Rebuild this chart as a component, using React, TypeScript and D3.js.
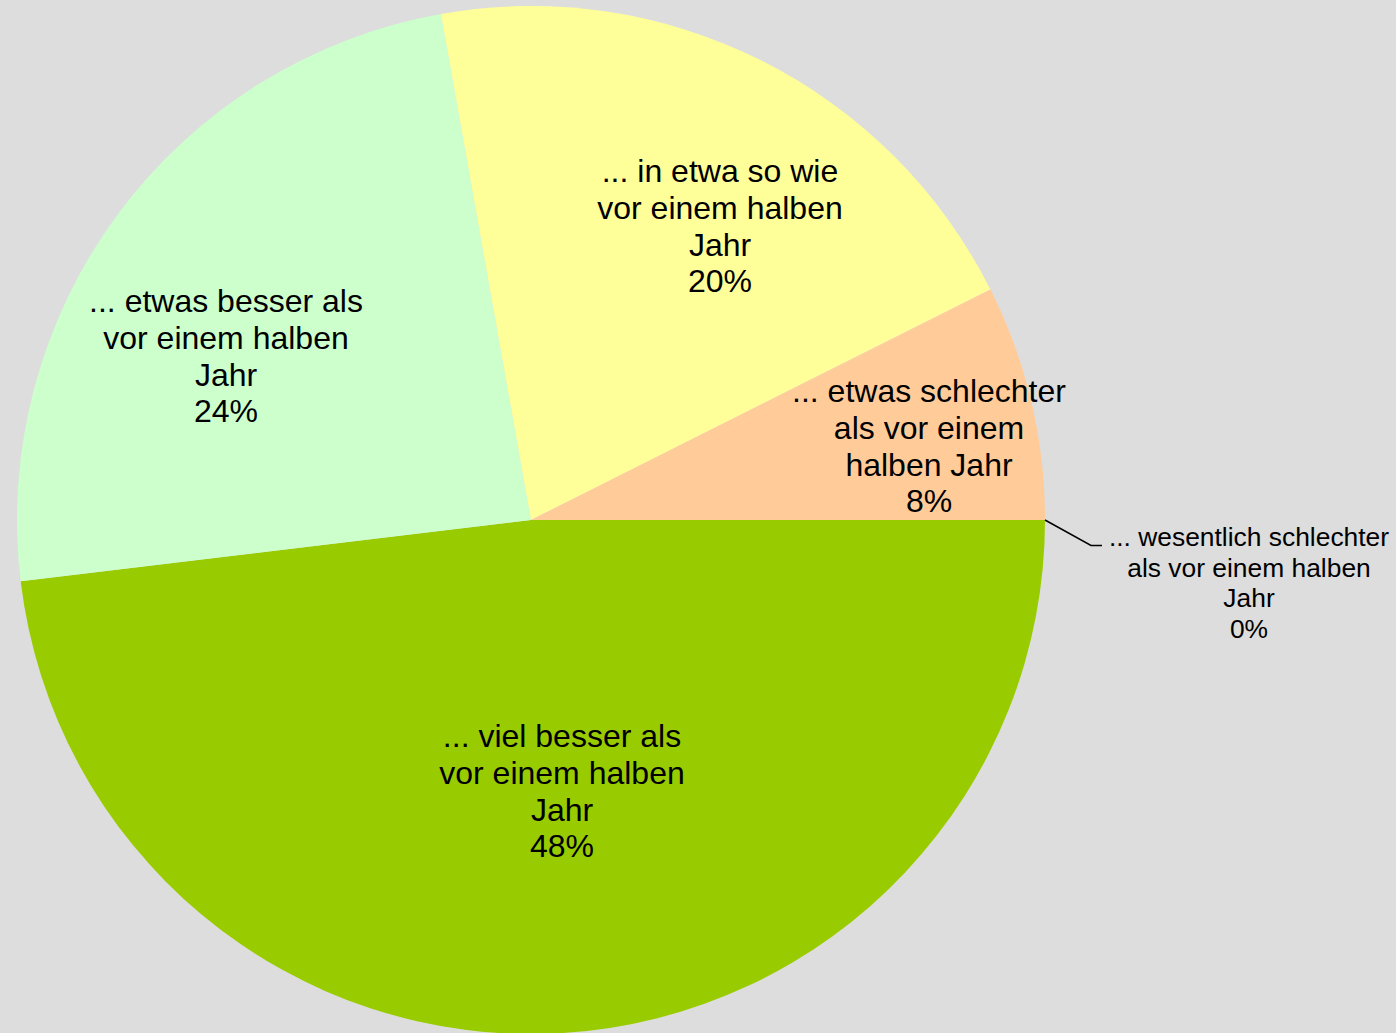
import React from "react";
import * as d3 from "d3";

// ---- data ----
const categories = [
  "... viel besser als vor einem halben Jahr",
  "... etwas besser als vor einem halben Jahr",
  "... in etwa so wie vor einem halben Jahr",
  "... etwas schlechter als vor einem halben Jahr",
  "... wesentlich schlechter als vor einem halben Jahr",
];
const values = [48.1, 24.1, 20.4, 7.4, 0];
const percentLabels = ["48%", "24%", "20%", "8%", "0%"];
const labelLines = [
  ["... viel besser als", "vor einem halben", "Jahr"],
  ["... etwas besser als", "vor einem halben", "Jahr"],
  ["... in etwa so wie", "vor einem halben", "Jahr"],
  ["... etwas schlechter", "als vor einem", "halben Jahr"],
  ["... wesentlich schlechter", "als vor einem halben", "Jahr"],
];

// ---- layout / style ----
const W = 1396;
const H = 1033;
const CX = 531;
const CY = 520;
const R = 514;
const COLORS = ["#99CC00", "#CCFFCC", "#FFFF99", "#FFCC99", "#FF9999"];
const BG = "#DDDDDD";
// label block centers relative to pie center
const LABEL_OFFSETS: [number, number][] = [
  [31, 271],
  [-305, -164],
  [189, -294],
  [398, -74],
  [718, 63],
];
const INSIDE_FS = 32;
const INSIDE_LH = 36.7;
const OUT_FS = 26.4;
const OUT_LH = 30.5;

export default function App() {
  const pie = d3
    .pie<number>()
    .sort(null)
    .value((d) => d)
    .startAngle(Math.PI / 2)
    .endAngle(Math.PI / 2 + 2 * Math.PI);
  const arcs = pie(values);
  const arc = d3.arc<d3.PieArcDatum<number>>().innerRadius(0).outerRadius(R);

  return (
    <svg
      width={W}
      height={H}
      style={{ position: "absolute", left: 0, top: 0, background: BG }}
      fontFamily="'Liberation Sans', Arial, sans-serif"
    >
      <rect x={0} y={0} width={W} height={H} fill={BG} />
      <g transform={`translate(${CX},${CY})`}>
        {arcs.map((a, i) =>
          a.endAngle - a.startAngle > 0 ? (
            <path key={categories[i]} d={arc(a) || ""} fill={COLORS[i]} />
          ) : null
        )}
        {arcs.map((a, i) => {
          const outside = values[i] === 0;
          const fs = outside ? OUT_FS : INSIDE_FS;
          const lh = outside ? OUT_LH : INSIDE_LH;
          const lines = [...labelLines[i], percentLabels[i]];
          const [dx, dy] = LABEL_OFFSETS[i];
          const n = lines.length;
          let leader = null;
          if (outside) {
            const ang = (a.startAngle + a.endAngle) / 2;
            const sx = R * Math.sin(ang);
            const sy = -R * Math.cos(ang);
            const firstBase = dy - ((n - 1) / 2) * lh + 0.35 * fs;
            const ly = firstBase - 1;
            leader = (
              <polyline
                points={`${sx},${sy} ${sx + 46},${ly} ${sx + 57},${ly}`}
                fill="none"
                stroke="#000"
                strokeWidth={1.5}
              />
            );
          }
          return (
            <g key={"lbl" + i}>
              {leader}
              <text textAnchor="middle" fontSize={fs} fill="#000">
                {lines.map((t, k) => (
                  <tspan
                    key={k}
                    x={dx}
                    y={dy + (k - (n - 1) / 2) * lh + 0.35 * fs}
                  >
                    {t}
                  </tspan>
                ))}
              </text>
            </g>
          );
        })}
      </g>
    </svg>
  );
}
